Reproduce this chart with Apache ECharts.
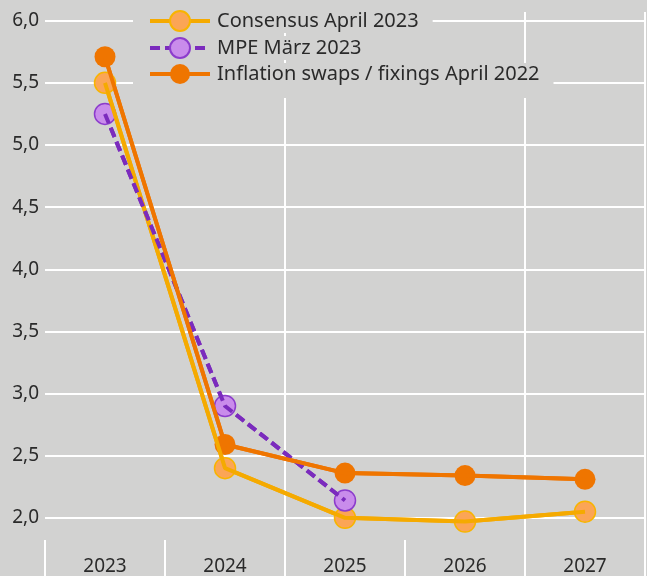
<!DOCTYPE html>
<html>
<head>
<meta charset="utf-8">
<script src="https://cdn.jsdelivr.net/npm/echarts@6/dist/echarts.min.js"></script>
<style>
  html, body { margin: 0; padding: 0; background: #d2d2d1; }
  #chart { width: 647px; height: 576px; }
</style>
</head>
<body>
<div id="chart"></div>
<script>
  var years = ['2023', '2024', '2025', '2026', '2027'];
  var consensus = [5.5, 2.4, 2.0, 1.97, 2.05];
  var mpe = [5.25, 2.9, 2.14, null, null];
  var swaps = [5.71, 2.59, 2.36, 2.34, 2.31];
  var names = ['Consensus April 2023', 'MPE März 2023', 'Inflation swaps / fixings April 2022'];

  var yellow = '#f5aa00';
  var orange = '#ef7500';
  var purple = '#7b2bbd';
  var font = 'Noto Sans';

  function legendBox(name, top, pad) {
    return {
      data: [name],
      left: 133,
      top: top,
      orient: 'vertical',
      backgroundColor: '#d2d2d1',
      padding: pad,
      itemWidth: 60,
      itemHeight: 25,
      itemGap: 0,
      lineStyle: { width: 4 },
      textStyle: { color: '#2a2a2a', fontSize: 20, fontFamily: font, padding: [0, 0, 0, 2] }
    };
  }

  // markers first, the lines are drawn over them
  function lineOnTop(data, color, type) {
    return {
      type: 'line',
      data: data,
      z: 5,
      symbol: 'none',
      silent: true,
      lineStyle: { color: color, width: 4, type: type }
    };
  }

  var option = {
    backgroundColor: '#d2d2d1',
    animation: false,
    legend: [
      legendBox(names[0], 9, [1, 14, 1, 15]),
      legendBox(names[1], 36, [1, 14, 1, 15]),
      legendBox(names[2], 63, [1, 14, 14, 15])
    ],
    grid: { left: 45, right: 2, top: 12, height: 568, outerBoundsMode: 'none' },
    xAxis: {
      type: 'category',
      data: years,
      boundaryGap: true,
      offset: -40,
      axisLine: { show: false },
      axisTick: { show: true, interval: 0, length: 36, lineStyle: { color: '#fff', width: 2 } },
      axisLabel: { color: '#2a2a2a', fontSize: 19, fontFamily: font, margin: 17 },
      splitLine: {
        show: true,
        interval: function (i) { return i === 2 || i === 4; },
        lineStyle: { color: '#fff', width: 2 }
      }
    },
    yAxis: {
      type: 'value',
      min: 1.5,
      max: 6.07,
      interval: 0.5,
      axisLine: { show: false },
      axisTick: { show: false },
      axisLabel: {
        color: '#2a2a2a', fontSize: 19, fontFamily: font, margin: 6,
        showMaxLabel: false,
        formatter: function (v) { return v < 1.9 ? '' : v.toFixed(1).replace('.', ','); }
      },
      splitLine: { show: true, showMaxLine: false, lineStyle: { color: '#fff', width: 2 } }
    },
    series: [
      {
        name: names[0], type: 'line', data: consensus,
        symbol: 'circle', symbolSize: 21,
        lineStyle: { color: yellow, width: 4 },
        itemStyle: { color: '#fba556', borderColor: '#f8b400', borderWidth: 1.5 }
      },
      {
        name: names[1], type: 'line', data: mpe,
        symbol: 'circle', symbolSize: 21,
        lineStyle: { color: purple, width: 4, type: [10, 5] },
        itemStyle: { color: '#c98ceb', borderColor: '#8c3ccc', borderWidth: 1.5 }
      },
      {
        name: names[2], type: 'line', data: swaps,
        symbol: 'circle', symbolSize: 21,
        lineStyle: { color: orange, width: 4 },
        itemStyle: { color: orange }
      },
      lineOnTop(consensus, yellow, 'solid'),
      lineOnTop(mpe, purple, [10, 5]),
      lineOnTop(swaps, orange, 'solid')
    ]
  };

  var chart = echarts.init(document.getElementById('chart'));
  chart.setOption(option);
</script>
</body>
</html>
